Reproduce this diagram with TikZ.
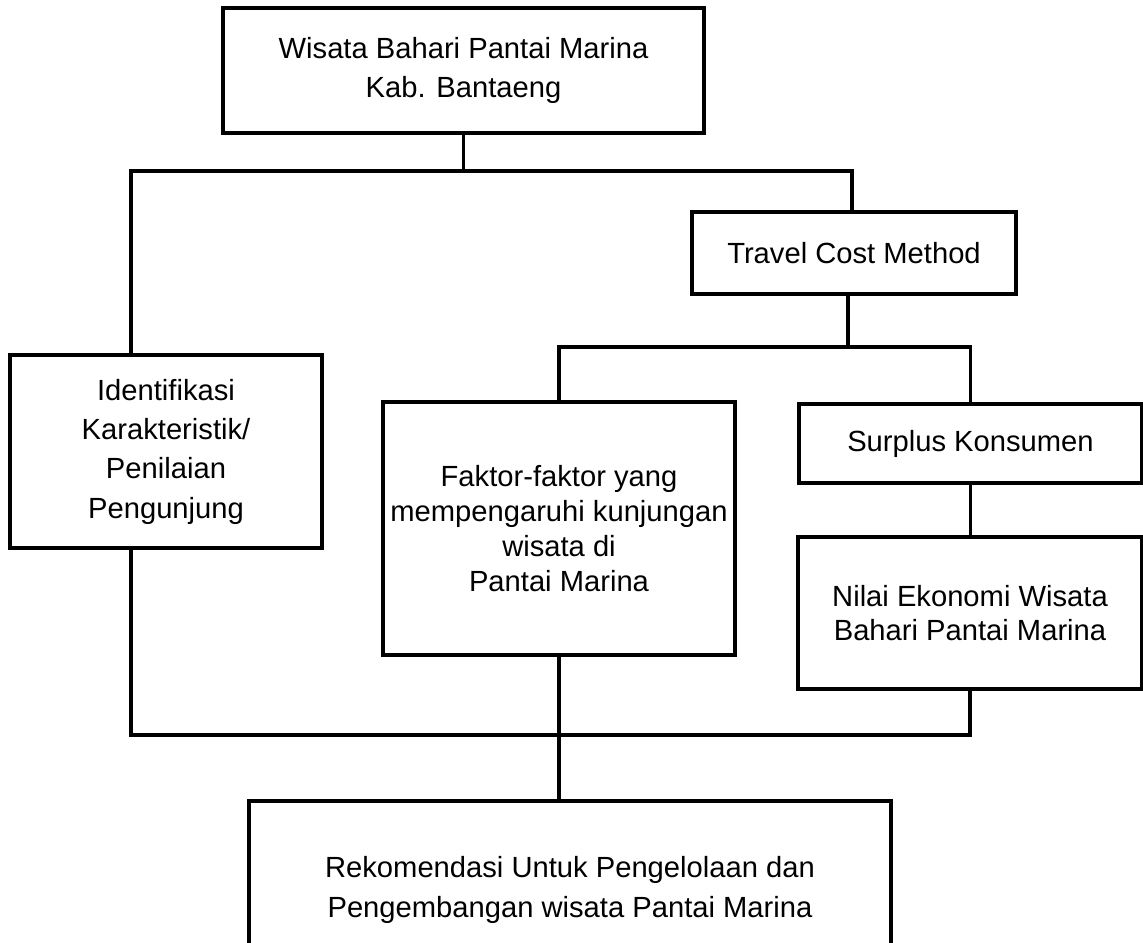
\documentclass[tikz,border=0pt]{standalone}
\usepackage{fontspec}
\setmainfont{Liberation Sans}
\usepackage{tikz}

\tikzset{
  kotak/.style={draw, line width=1.9pt, align=center, inner sep=0pt,
    font=\fontsize{16.6}{22.4}\selectfont},
  rapat/.style={font=\fontsize{16.6}{19.8}\selectfont},
  garis/.style={line width=1.9pt},
}

\begin{document}
\begin{tikzpicture}[x=0.2mm,y=-0.2mm]
  \useasboundingbox (0,0) rectangle (1143,942);
  \clip (0,0) rectangle (1143,942);
  % kotak
  \node[kotak, line width=2.2pt, minimum width=96.2mm, minimum height=25mm] (wisata) at (463.5,70.5)
    {Wisata Bahari Pantai Marina\\Kab. Bantaeng};
  \node[kotak, minimum width=62.4mm, minimum height=38.6mm] (iden) at (166,451.5)
    {Identifikasi\\Karakteristik/\\Penilaian\\Pengunjung};
  \node[kotak, minimum width=64.8mm, minimum height=16.4mm] (tcm) at (854,253) {Travel Cost Method};
  \node[kotak, rapat, minimum width=70.4mm, minimum height=50.6mm] (faktor) at (559,528.5)
    {Faktor-faktor yang\\mempengaruhi kunjungan\\wisata di\\Pantai Marina};
  \node[kotak, minimum width=68.6mm, minimum height=15.8mm] (surplus) at (970.5,443.5) {Surplus Konsumen};
  \node[kotak, rapat, minimum width=68.8mm, minimum height=30.4mm] (nilai) at (970,613)
    {Nilai Ekonomi Wisata\\Bahari Pantai Marina};
  \node[kotak, minimum width=128.4mm, minimum height=35.6mm] (rekom) at (570,890)
    {Rekomendasi Untuk Pengelolaan dan\\Pengembangan wisata Pantai Marina};
  % titik cabang
  \coordinate (kiri) at (131,171);
  \coordinate (kanan) at (852,171);
  \coordinate (tengah) at (848,347);
  \coordinate (bawah) at (131,735);
  % garis
  \draw[garis] (wisata.south) -- (wisata.south |- kiri);
  \draw[garis] (iden.north -| kiri) -- (kiri) -- (kanan) -- (tcm.north -| kanan);
  \draw[garis] (tcm.south -| tengah) -- (tengah);
  \draw[garis] (faktor.north) -- (faktor.north |- tengah) -- (surplus.north |- tengah) -- (surplus.north);
  \draw[garis] (surplus.south) -- (nilai.north -| surplus.south);
  \draw[garis] (iden.south -| bawah) -- (bawah) -- (nilai.south |- bawah) -- (nilai.south);
  \draw[garis] (faktor.south) -- (rekom.north -| faktor.south);
\end{tikzpicture}
\end{document}
